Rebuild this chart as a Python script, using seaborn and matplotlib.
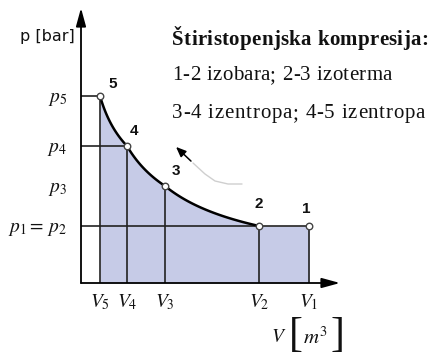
import numpy as np
import pandas as pd
import matplotlib
matplotlib.use("Agg")
import matplotlib.pyplot as plt
from matplotlib.font_manager import FontProperties
import seaborn as sns

# State points of the four-stage compression (schematic units)
states = ["1", "2", "3", "4", "5"]
volume = [228, 178, 84, 46, 19]
pressure = [57, 57, 97, 137, 187]

v_tick_labels = ["$V_1$", "$V_2$", "$V_3$", "$V_4$", "$V_5$"]
p_tick_values = [57, 97, 137, 187]
p_tick_labels = ["$p_1{=}\\,p_2$", "$p_3$", "$p_4$", "$p_5$"]

title_text = "Štiristopenjska kompresija:"
process_lines = ["1-2 izobara; 2-3 izoterma", "3-4 izentropa; 4-5 izentropa"]

# Direction hint drawn next to the curve
hint_x = [112, 124, 134, 147, 161]
hint_y = [120, 109, 102, 99, 99]

sns.set_theme(style="white")
plt.rcParams["mathtext.fontset"] = "stix"
plt.rcParams["font.family"] = ["Liberation Serif", "DejaVu Sans"]

W, H = 429, 363
fig = plt.figure(figsize=(W / 100, H / 100), dpi=100)
ax = fig.add_axes([81 / W, 80 / H, 259 / W, 275 / H])
ax.set_xlim(0, 259)
ax.set_ylim(0, 275)

# Process curve between successive states: p * V^n = const through each pair
segments = []
for i in range(len(states) - 1):
    va, vb = volume[i], volume[i + 1]
    pa, pb = pressure[i], pressure[i + 1]
    vv = np.linspace(va, vb, 80)
    if pa == pb:
        pp = np.full_like(vv, pa, dtype=float)
    else:
        n = np.log(pb / pa) / np.log(va / vb)
        pp = pa * (va / vv) ** n
    segments.append(pd.DataFrame({"V": vv, "p": pp, "seg": i}))
curve = pd.concat(segments, ignore_index=True)

# Work area under the curve
ax.fill_between(curve["V"], curve["p"], 0, color="#c6cbe7", lw=0, zorder=1)

# Guide lines to the axes
ax.vlines(volume, 0, pressure, color="#222222", lw=1.2, zorder=2)
h_idx = [0, 3, 4]
ax.hlines([pressure[i] for i in h_idx], 0, [volume[i] for i in h_idx],
          color="#222222", lw=1.2, zorder=2)

# Compression curve 2-3-4-5
sns.lineplot(data=curve[curve["seg"] > 0], x="V", y="p", sort=False,
             estimator=None, units="seg", color="black", lw=1.8, ax=ax,
             legend=False, zorder=3)

# State markers
pts = pd.DataFrame({"V": volume, "p": pressure, "state": states})
sns.scatterplot(data=pts, x="V", y="p", marker="o", s=22, color="white",
                edgecolor="#444444", linewidth=1.0, ax=ax, zorder=4,
                legend=False)

offsets = {"1": (-2, 12), "2": (0, 16), "3": (8, 11), "4": (5, 11), "5": (9, 9)}
for s, v, p in zip(states, volume, pressure):
    ax.annotate(s, (v, p), xytext=offsets[s], textcoords="offset points",
                ha="center", va="center", fontsize=11, fontweight="bold",
                family="Liberation Sans", color="#111111", zorder=5)

# Direction hint
ax.plot(hint_x, hint_y, color="#cfcfcf", lw=1.0, zorder=2)
ax.annotate("", xy=(93, 138), xytext=(hint_x[0], hint_y[0]),
            arrowprops=dict(arrowstyle="-|>,head_length=0.6,head_width=0.25",
                            color="black", lw=1.1, mutation_scale=10))

# Axes drawn as arrows
for sp in ax.spines.values():
    sp.set_visible(False)
arrow = dict(arrowstyle="-|>,head_length=1.1,head_width=0.3", color="black",
             lw=1.3, mutation_scale=10, shrinkA=0, shrinkB=0)
ax.annotate("", xy=(1, 0), xytext=(0, 0), xycoords="axes fraction",
            arrowprops=arrow, zorder=6)
ax.annotate("", xy=(0, 1), xytext=(0, 0), xycoords="axes fraction",
            arrowprops=arrow, zorder=6)

ax.set_xticks(volume, v_tick_labels)
ax.set_yticks(p_tick_values, p_tick_labels)
ax.tick_params(axis="x", length=0, pad=7, labelsize=14, colors="#111111")
ax.tick_params(axis="y", length=0, pad=10, labelsize=14, colors="#111111")
ax.set_xlabel("")
ax.set_ylabel("")
ax.grid(False)

fig.text(47 / W, 1 - 36 / H, "p [bar]", ha="center", va="center",
         fontsize=11.5, family="DejaVu Sans", color="#111111")

# Axis unit V [m^3] with tall brackets
unit_y = 1 - 338 / H
fig.text(279 / W, unit_y, "$V$", ha="center", va="center", fontsize=14,
         color="#111111")
fig.text(296 / W, 1 - 336 / H, "[", ha="center", va="center", fontsize=30,
         color="#111111", family="Liberation Serif")
fig.text(315 / W, unit_y, "$m^3$", ha="center", va="center", fontsize=15,
         color="#111111")
fig.text(337 / W, 1 - 336 / H, "]", ha="center", va="center", fontsize=30,
         color="#111111", family="Liberation Serif")


def spaced_text(x_px, y_px, s, right_px, **kw):
    """Draw s starting at x_px, spreading its glyphs to end near right_px."""
    renderer = fig.canvas.get_renderer()
    fp = FontProperties(family=kw.get("family", "Liberation Serif"),
                        size=kw.get("fontsize", 13),
                        weight=kw.get("fontweight", "normal"))

    def width(t):
        w, _, _ = renderer.get_text_width_height_descent("x" + t + "x", fp, ismath=False)
        w0, _, _ = renderer.get_text_width_height_descent("xx", fp, ismath=False)
        return w - w0

    starts = [width(s[:i]) for i in range(len(s))]
    total = width(s)
    extra = (right_px - x_px - total) / max(len(s) - 1, 1)
    for i, ch in enumerate(s):
        if ch == " ":
            continue
        fig.text((x_px + starts[i] + i * extra) / W, 1 - y_px / H, ch,
                 ha="left", va="baseline", fontproperties=fp, color="#111111")


spaced_text(172, 45, title_text, 428, fontsize=15, fontweight="bold")
spaced_text(172, 80, process_lines[0], 392, fontsize=15)
spaced_text(172, 118, process_lines[1], 425, fontsize=15)

fig.savefig("out.png", dpi=100)
